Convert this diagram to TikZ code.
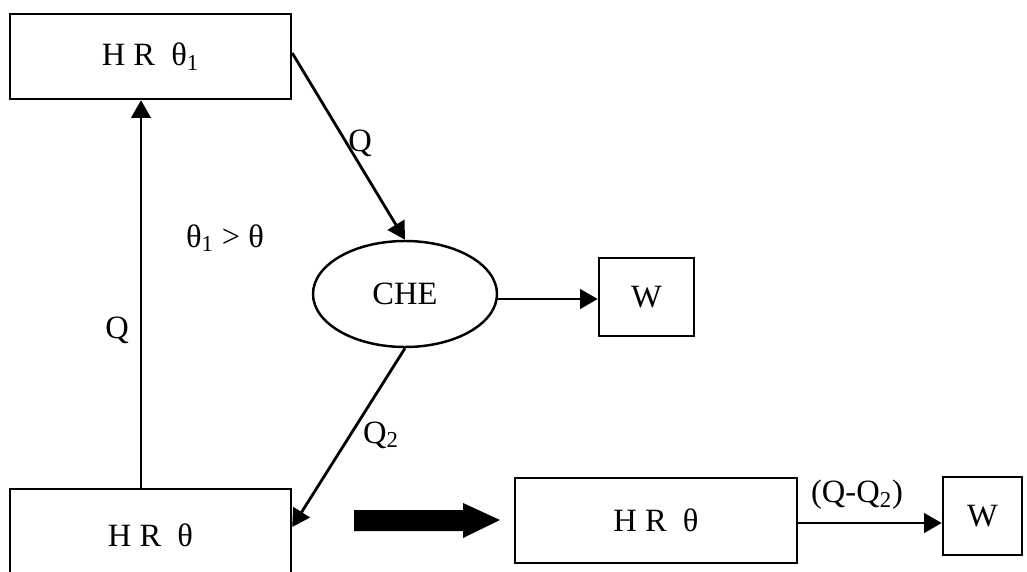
\documentclass[tikz,border=0pt]{standalone}
\usepackage{fontspec}
\setmainfont{Liberation Serif}
\usepackage{tikz}
\usetikzlibrary{arrows.meta, shapes.geometric}

\newcommand{\sub}[1]{\textsubscript{#1}}

\begin{document}
\begin{tikzpicture}[
		font=\fontsize{18.5}{20}\selectfont,
		box/.style={draw, line width=1.4pt, inner sep=0pt},
		flow/.style={line width=1.6pt, -{Triangle[length=10pt, width=11pt]}},
		lbl/.style={inner sep=0pt}
	]
	\useasboundingbox (0,0) rectangle (20.54,11.42);

	% Reservoirs, engine and work boxes
	\node[box, minimum width=5.62cm, minimum height=1.7cm] (hrtop) at (3.01,10.29) {H R\enspace θ\sub{1}};
	\node[box, minimum width=5.62cm, minimum height=1.84cm] (hrbot) at (3.01,0.72) {H R\enspace θ};
	\node[box, ellipse, minimum width=3.68cm, minimum height=2.12cm] (che) at (8.1,5.54) {CHE};
	\node[box, minimum width=1.9cm, minimum height=1.56cm] (wtop) at (12.93,5.48) {W};
	\node[box, minimum width=5.64cm, minimum height=1.7cm] (hrmid) at (13.12,1.01) {H R\enspace θ};
	\node[box, minimum width=1.58cm, minimum height=1.56cm] (wbot) at (19.65,1.1) {W};

	% Heat flows
	\draw[flow] ([xshift=-0.19cm]hrbot.north) -- ([xshift=-0.19cm]hrtop.south);
	\draw[flow] ([yshift=0.07cm]hrtop.east) -- (che.north);
	\draw[flow] ([yshift=-0.1cm]che.east) -- ([yshift=-0.1cm]che.east -| wtop.west);
	\draw[flow] (che.south) -- ([yshift=0.16cm]hrbot.east);
	\draw[flow] ([yshift=-0.05cm]hrmid.east) -- ([yshift=-0.05cm]hrmid.east -| wbot.west);

	% Big arrow
	\fill (7.08,1.22) -- (9.26,1.22) -- (9.26,1.36) -- (10.0,1.02) -- (9.26,0.66) -- (9.26,0.8) -- (7.08,0.8) -- cycle;

	% Labels
	\node[lbl] (qleft) at (2.34,4.82) {Q};
	\node[lbl] (cond) at (4.5,6.66) {θ\sub{1} > θ};
	\node[lbl] (qtop) at (7.2,8.56) {Q};
	\node[lbl] (qtwo) at (7.62,2.72) {Q\sub{2}};
	\node[lbl] (qdiff) at (17.14,1.52) {(Q-Q\sub{2})};
\end{tikzpicture}
\end{document}
